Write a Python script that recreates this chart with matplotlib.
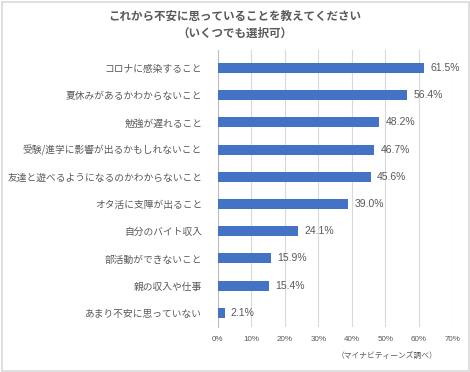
import matplotlib.pyplot as plt
from matplotlib.patches import Rectangle

plt.rcParams['font.family'] = ['Noto Sans CJK JP', 'DejaVu Sans']

# データ
項目 = ['コロナに感染すること', '夏休みがあるかわからないこと', '勉強が遅れること',
      '受験/進学に影響が出るかもしれないこと', '友達と遊べるようになるのかわからないこと',
      'オタ活に支障が出ること', '自分のバイト収入', '部活動ができないこと',
      '親の収入や仕事', 'あまり不安に思っていない']
割合 = [61.5, 56.4, 48.2, 46.7, 45.6, 39.0, 24.1, 15.9, 15.4, 2.1]
目盛 = [0, 10, 20, 30, 40, 50, 60, 70]

灰色 = '#595959'
青 = '#4472C4'

fig = plt.figure(figsize=(4.70, 3.72), dpi=100)
ax = fig.add_axes([217.5 / 470, 1 - 327 / 372, 235 / 470, 277 / 372])

y = list(range(len(項目)))
ax.barh(y, 割合, height=0.37, color=青, zorder=3)
for yi, v in zip(y, 割合):
    ax.annotate(f'{v:.1f}%', (v, yi), xytext=(4.5, 0), textcoords='offset points',
                va='center', ha='left', fontsize=7.5, color=灰色,
                family=['Liberation Sans', 'DejaVu Sans'])

ax.set_ylim(len(項目) - 0.48, -0.66)
ax.set_xlim(0, 70)
ax.set_xticks(目盛)
ax.set_xticklabels([f'{t}%' for t in 目盛], fontsize=5.8, color=灰色,
                   family=['Liberation Sans', 'DejaVu Sans'])
ax.set_yticks(y)
ax.set_yticklabels(項目, fontsize=7, color=灰色)
ax.tick_params(axis='both', length=0)
ax.tick_params(axis='x', pad=6.5)
ax.tick_params(axis='y', pad=11)
ax.grid(axis='x', color='#d9d9d9', linewidth=0.8, zorder=0)
for s in ['top', 'right', 'bottom']:
    ax.spines[s].set_visible(False)
ax.spines['left'].set_color('#bfbfbf')
ax.spines['left'].set_linewidth(0.8)

fig.text(0.5, 1 - 16 / 372, 'これから不安に思っていることを教えてください',
         ha='center', va='center', fontsize=8.3, fontweight='bold', color=灰色)
fig.text(0.5, 1 - 33 / 372, '（いくつでも選択可）',
         ha='center', va='center', fontsize=8.3, fontweight='bold', color=灰色)
fig.text(437 / 470, 1 - 356 / 372, '（マイナビティーンズ調べ）',
         ha='right', va='center', fontsize=5.6, color=灰色)

fig.patches.append(Rectangle((1.5 / 470, 1.5 / 372), 1 - 3 / 470, 1 - 3 / 372,
                             transform=fig.transFigure, fill=False,
                             edgecolor='#d9d9d9', linewidth=1.2))

fig.savefig('out.png', dpi=100)
